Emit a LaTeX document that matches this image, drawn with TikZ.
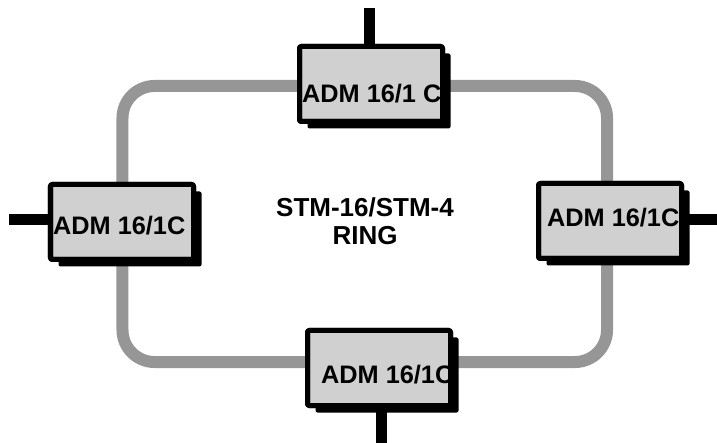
\documentclass[tikz,border=0pt]{standalone}
\usepackage{fontspec}
\setmainfont{Liberation Sans}
\usetikzlibrary{shadows,backgrounds}
\definecolor{ringgray}{RGB}{150,150,150}
\definecolor{boxgray}{RGB}{208,208,208}
\begin{document}
\begin{tikzpicture}[x=1bp,y=-1bp,
  ringline/.style={draw=ringgray,line width=12bp,rounded corners=32bp,minimum width=484.5bp,minimum height=276bp,inner sep=0pt,outer sep=0pt},
  admbox/.style={fill=boxgray,draw=black,line width=5bp,rounded corners=2bp,minimum width=143bp,minimum height=75bp,inner sep=0pt,outer sep=0pt,
    drop shadow={shadow xshift=8bp,shadow yshift=-7bp,fill=black,opacity=1}},
  admborder/.style={draw=black,line width=5bp,rounded corners=2bp},
  admtext/.style={anchor=base west,inner sep=0pt,font=\bfseries\fontsize{25.3bp}{28bp}\selectfont},
  stub/.style={draw=black,line width=11bp},
  ringtext/.style={align=center,inner sep=0pt,font=\bfseries\fontsize{26bp}{28bp}\selectfont}]
\useasboundingbox (0,0) rectangle (717,443);
% boxes
\node[admbox] (top) at (371,84) {};
\node[admbox] (left) at (122,222) {};
\node[admbox] (right) at (610,221) {};
\node[admbox] (bottom) at (379,368) {};
% stub ends
\coordinate (topend) at (369,8);
\coordinate (leftend) at (9,220);
\coordinate (rightend) at (717,220);
\coordinate (bottomend) at (381,443);
\begin{pgfonlayer}{background}
  \node[ringline] (ring) at (364.75,224) {};
  \draw[stub] (topend |- top.north) -- (topend);
  \draw[stub] (leftend -| left.west) -- (leftend);
  \draw[stub] (rightend -| right.east) -- (rightend);
  \draw[stub] (bottomend |- bottom.south) -- (bottomend);
\end{pgfonlayer}
% texts
\node[admtext] (ttop) at (302,103) {ADM 16/1 C};
\node[admtext] (tleft) at (53,235) {ADM 16/1C};
\node[admtext] (tright) at (547,227) {ADM 16/1C};
\node[admtext] (tbottom) at (321,383) {ADM 16/1C};
% borders over the texts
\draw[admborder] (top.north west) rectangle (top.south east);
\draw[admborder] (left.north west) rectangle (left.south east);
\draw[admborder] (right.north west) rectangle (right.south east);
\draw[admborder] (bottom.north west) rectangle (bottom.south east);
% centre label
\node[ringtext] (label) at (365,221) {STM-16/STM-4\\RING};
\end{tikzpicture}
\end{document}
